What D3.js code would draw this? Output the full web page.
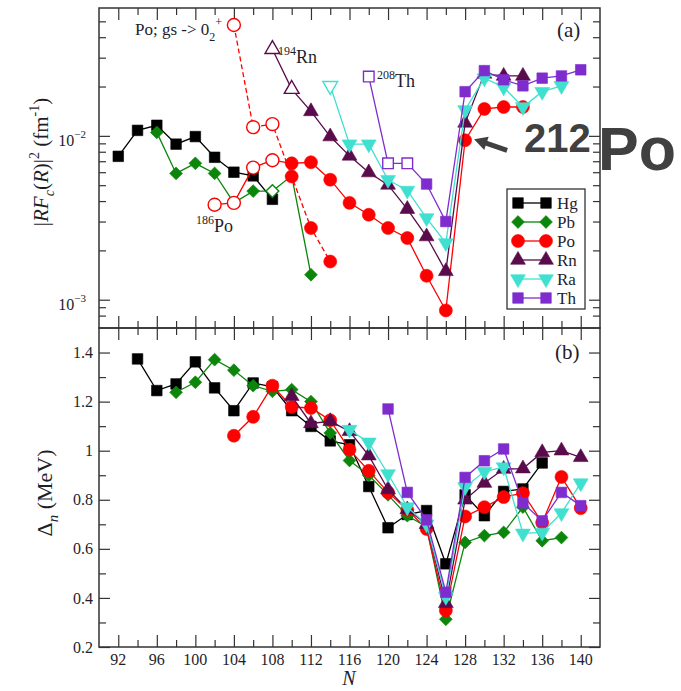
<!DOCTYPE html>
<html>
<head>
<meta charset="utf-8">
<script src="https://cdn.jsdelivr.net/npm/d3@7"></script>
<style>
  html, body { margin: 0; padding: 0; background: #fff; }
  svg { display: block; }
  text { font-family: "Liberation Serif", "Times New Roman", serif; fill: #1e1e2a; }
</style>
</head>
<body>
<svg id="chart" width="681" height="691"></svg>
<script>
// ---------- data: |R F_c(R)|^2 (fm^-1) versus neutron number N ----------
const rfHg = [[92,0.0075],[94,0.0108],[96,0.0116],[98,0.0089],[100,0.0099],[102,0.0074],[104,0.0060],[106,0.0057],[108,0.0041]];
const rfPb = [[96,0.0105],[98,0.0059],[100,0.0068],[102,0.0059],[104,0.0039],[106,0.0046],[108,0.0046],[110,0.0057],[112,0.00142]];
const rfPo = [[102,0.0038],[104,0.0039],[106,0.0064],[108,0.0071],[110,0.0068],[112,0.0069],[114,0.0054],[116,0.0039],[118,0.0033],[120,0.00274],[122,0.00238],[124,0.0014],[126,0.00086],[128,0.0094],[130,0.0146],[132,0.0150],[134,0.0150]];
const rfPoExcited = [[104,0.0475],[106,0.0113],[108,0.0118],[110,0.00565],[112,0.00274],[114,0.00171]];
const rfRn = [[108,0.0338],[110,0.0193],[112,0.0141],[114,0.0099],[116,0.00755],[118,0.00597],[120,0.00502],[122,0.00357],[124,0.00243],[126,0.00149],[128,0.0120],[130,0.0239],[132,0.0232],[134,0.0232]];
const rfRa = [[114,0.0202],[116,0.0089],[118,0.0089],[120,0.0054],[122,0.00464],[124,0.00315],[126,0.00222],[128,0.0144],[130,0.0225],[132,0.0198],[134,0.0150],[136,0.0186],[138,0.0202]];
const rfTh = [[118,0.0230],[120,0.0068],[122,0.0068],[124,0.00508],[126,0.0030],[128,0.0186],[130,0.0250],[132,0.0220],[134,0.0202],[136,0.0225],[138,0.0232],[140,0.0253]];

// neutron numbers drawn with open symbols
const openHg = [];
const openPb = [108];
const openPo = [102,104,106,108];
const openPoExcited = [104,106,108];
const openRn = [108,110];
const openRa = [114];
const openTh = [118,120,122];

// ---------- data: neutron pairing gap Delta_n (MeV) versus N ----------
const gapHg = [[94,1.374],[96,1.245],[98,1.272],[100,1.362],[102,1.256],[104,1.163],[106,1.276],[108,1.26],[110,1.163],[112,1.099],[114,1.04],[116,1.024],[118,0.854],[120,0.686],[122,0.74],[124,0.756],[126,0.539],[128,0.82],[130,0.735],[132,0.834],[134,0.844],[136,0.95]];
const gapPb = [[98,1.238],[100,1.279],[102,1.371],[104,1.328],[106,1.265],[108,1.242],[110,1.249],[112,1.2],[114,1.072],[116,0.96],[118,0.9],[120,0.82],[122,0.735],[124,0.69],[126,0.313],[128,0.626],[130,0.654],[132,0.667],[134,0.77],[136,0.633],[138,0.646]];
const gapPo = [[104,1.061],[106,1.138],[108,1.265],[110,1.178],[112,1.174],[114,1.124],[116,1.004],[118,0.918],[120,0.83],[122,0.759],[124,0.681],[126,0.349],[128,0.732],[130,0.77],[132,0.811],[134,0.827],[136,0.707],[138,0.893],[140,0.766]];
const gapRn = [[110,1.222],[112,1.111],[114,1.12],[116,1.079],[118,0.98],[120,0.842],[122,0.76],[124,0.70],[126,0.378],[128,0.8],[130,0.868],[132,0.925],[134,0.927],[136,0.993],[138,1.0],[140,0.973]];
const gapRa = [[116,1.086],[118,1.034],[120,0.905],[122,0.77],[124,0.70],[126,0.405],[128,0.852],[130,0.915],[132,0.933],[134,0.663],[136,0.667],[138,0.746],[140,0.868]];
const gapTh = [[120,1.17],[122,0.83],[124,0.718],[126,0.423],[128,0.891],[130,0.959],[132,1.007],[134,0.787],[136,0.714],[138,0.83],[140,0.776]];

// ---------- axis ticks ----------
const xMajor = [92,96,100,104,108,112,116,120,124,128,132,136,140];
const xMinor = [94,98,102,106,110,114,118,122,126,130,134,138];
const rfMajor = [1e-3, 1e-2];
const rfMinor = [8e-4,9e-4,2e-3,3e-3,4e-3,5e-3,6e-3,7e-3,8e-3,9e-3,2e-2,3e-2,4e-2,5e-2];
const gapMajor = [0.2,0.4,0.6,0.8,1.0,1.2,1.4];
const gapMinor = [0.3,0.5,0.7,0.9,1.1,1.3];
const gapLabels = ["0.2","0.4","0.6","0.8","1","1.2","1.4"];
const legendNames = ["Hg","Pb","Po","Rn","Ra","Th"];

// ---------- styles ----------
const style = {
  Hg: { color: "#000000", shape: "square" },
  Pb: { color: "#0b860b", shape: "diamond" },
  Po: { color: "#ff0000", shape: "circle" },
  Rn: { color: "#5a0b4c", shape: "triangle" },
  Ra: { color: "#40e0d0", shape: "triangleDown" },
  Th: { color: "#7f2ccf", shape: "square" }
};

const svg = d3.select("#chart");
const L = 99, R = 600, T1 = 8, B1 = 328, T2 = 328, B2 = 647;

const x = d3.scaleLinear().domain([90, 142]).range([L, R]);
const yRF = d3.scaleLog().domain([6.72e-4, 6.03e-2]).range([B1, T1]);
const yGap = d3.scaleLinear().domain([0.2, 1.5]).range([B2, T2]);

function symbolOf(shape) {
  switch (shape) {
    case "square": return { path: d3.symbol(d3.symbolSquare, 112)(), rot: 0 };
    case "diamond": return { path: d3.symbol(d3.symbolSquare, 82)(), rot: 45 };
    case "circle": return { path: d3.symbol(d3.symbolCircle, 132)(), rot: 0 };
    case "triangle": return { path: d3.symbol(d3.symbolTriangle, 95)(), rot: 0 };
    case "triangleDown": return { path: d3.symbol(d3.symbolTriangle, 95)(), rot: 180 };
  }
}

function drawSeries(g, data, openList, st, yScale, dashed) {
  const line = d3.line().x(d => x(d[0])).y(d => yScale(d[1]));
  g.append("path").datum(data)
    .attr("d", line)
    .attr("fill", "none")
    .attr("stroke", st.color)
    .attr("stroke-width", 1.3)
    .attr("stroke-dasharray", dashed ? "5,3" : null);
  const sym = symbolOf(st.shape);
  g.selectAll(null).data(data).join("path")
    .attr("d", sym.path)
    .attr("transform", d => `translate(${x(d[0])},${yScale(d[1])}) rotate(${sym.rot})`)
    .attr("fill", d => openList.includes(d[0]) ? "#ffffff" : st.color)
    .attr("stroke", st.color)
    .attr("stroke-width", d => openList.includes(d[0]) ? 1.4 : 0.6);
}

// ---------- tick helper (ticks point into each panel) ----------
function tickSet(axisFn, scale, values, size, tx, ty) {
  svg.append("g")
    .attr("transform", `translate(${tx},${ty})`)
    .call(axisFn(scale).tickValues(values).tickSize(size).tickFormat(""))
    .call(s => s.select(".domain").remove())
    .call(s => s.selectAll(".tick line").attr("stroke", "#333").attr("stroke-width", 1.2))
    .call(s => s.selectAll(".tick text").remove());
}

// top panel ticks
tickSet(d3.axisBottom, x, xMajor, 12, 0, T1);
tickSet(d3.axisBottom, x, xMinor, 7, 0, T1);
tickSet(d3.axisTop, x, xMajor, 12, 0, B1);
tickSet(d3.axisTop, x, xMinor, 7, 0, B1);
tickSet(d3.axisRight, yRF, rfMajor, 11, L, 0);
tickSet(d3.axisRight, yRF, rfMinor, 7, L, 0);
tickSet(d3.axisLeft, yRF, rfMajor, 11, R, 0);
tickSet(d3.axisLeft, yRF, rfMinor, 7, R, 0);
// bottom panel ticks
tickSet(d3.axisBottom, x, xMajor, 12, 0, T2);
tickSet(d3.axisBottom, x, xMinor, 7, 0, T2);
tickSet(d3.axisTop, x, xMajor, 12, 0, B2);
tickSet(d3.axisTop, x, xMinor, 7, 0, B2);
tickSet(d3.axisRight, yGap, gapMajor, 11, L, 0);
tickSet(d3.axisRight, yGap, gapMinor, 7, L, 0);
tickSet(d3.axisLeft, yGap, gapMajor, 11, R, 0);
tickSet(d3.axisLeft, yGap, gapMinor, 7, R, 0);

// ---------- series ----------
const gTop = svg.append("g");
drawSeries(gTop, rfHg, openHg, style.Hg, yRF, false);
drawSeries(gTop, rfPb, openPb, style.Pb, yRF, false);
drawSeries(gTop, rfPo, openPo, style.Po, yRF, false);
drawSeries(gTop, rfPoExcited, openPoExcited, style.Po, yRF, true);
drawSeries(gTop, rfRn, openRn, style.Rn, yRF, false);
drawSeries(gTop, rfRa, openRa, style.Ra, yRF, false);
drawSeries(gTop, rfTh, openTh, style.Th, yRF, false);

const gBot = svg.append("g");
drawSeries(gBot, gapHg, [], style.Hg, yGap, false);
drawSeries(gBot, gapPb, [], style.Pb, yGap, false);
drawSeries(gBot, gapPo, [], style.Po, yGap, false);
drawSeries(gBot, gapRn, [], style.Rn, yGap, false);
drawSeries(gBot, gapRa, [], style.Ra, yGap, false);
drawSeries(gBot, gapTh, [], style.Th, yGap, false);

// ---------- frames ----------
svg.append("rect").attr("x", L).attr("y", T1).attr("width", R - L).attr("height", B1 - T1)
  .attr("fill", "none").attr("stroke", "#333").attr("stroke-width", 1.5);
svg.append("rect").attr("x", L).attr("y", T2).attr("width", R - L).attr("height", B2 - T2)
  .attr("fill", "none").attr("stroke", "#333").attr("stroke-width", 1.5);

// ---------- tick labels ----------
svg.append("g").selectAll("text").data(xMajor).join("text")
  .attr("x", d => x(d)).attr("y", 665)
  .attr("text-anchor", "middle").attr("font-size", 16)
  .text(d => d);

svg.append("g").selectAll("text").data(gapMajor).join("text")
  .attr("x", 93).attr("y", d => yGap(d)).attr("dy", "0.35em")
  .attr("text-anchor", "end").attr("font-size", 16)
  .text((d, i) => gapLabels[i]);

const rfLab = svg.append("g").selectAll("text").data(rfMajor).join("text")
  .attr("x", 86).attr("y", d => yRF(d) + 10)
  .attr("text-anchor", "end").attr("font-size", 16);
rfLab.append("tspan").text("10");
rfLab.append("tspan").attr("font-size", 11).attr("dy", -8).text(d => "\u2212" + Math.round(-Math.log10(d)));

// ---------- axis titles ----------
function richText(parent, parts, size, smallSize) {
  let shift = 0;
  parts.forEach(p => {
    const target = p.sub ? 6 : p.sup ? -9 : 0;
    parent.append("tspan")
      .attr("dy", target - shift)
      .attr("font-size", (p.sub || p.sup) ? smallSize : size)
      .attr("font-style", p.i ? "italic" : "normal")
      .text(p.t);
    shift = target;
  });
}

const yTitleTop = svg.append("text")
  .attr("transform", "translate(48,162) rotate(-90)")
  .attr("text-anchor", "middle").attr("font-size", 21);
richText(yTitleTop, [
  { t: "|" }, { t: "RF", i: true }, { t: "c", i: true, sub: true }, { t: "(" }, { t: "R", i: true },
  { t: ")|" }, { t: "2", sup: true }, { t: " (fm" }, { t: "-1", sup: true }, { t: ")" }
], 21, 14);

const yTitleBot = svg.append("text")
  .attr("transform", "translate(52,493) rotate(-90)")
  .attr("text-anchor", "middle").attr("font-size", 22);
richText(yTitleBot, [
  { t: "\u0394" }, { t: "n", i: true, sub: true }, { t: " (MeV)" }
], 22, 15);

svg.append("text").attr("x", 349).attr("y", 685).attr("text-anchor", "middle")
  .attr("font-size", 20).attr("font-style", "italic").text("N");

// ---------- panel tags and annotations ----------
svg.append("text").attr("x", 557).attr("y", 37).attr("font-size", 21).text("(a)");
svg.append("text").attr("x", 555).attr("y", 359).attr("font-size", 21).text("(b)");

const noteGs = svg.append("text").attr("x", 135).attr("y", 35).attr("font-size", 17);
richText(noteGs, [{ t: "Po; gs -> 0" }, { t: "2", sub: true }, { t: "+", sup: true }], 17, 12);

function isotope(xp, yp, mass, el) {
  const t = svg.append("text").attr("x", xp).attr("y", yp).attr("font-size", 18);
  t.append("tspan").attr("font-size", 12).attr("dy", -8).text(mass);
  t.append("tspan").attr("dy", 8).text(el);
}
isotope(278, 63, "194", "Rn");
isotope(377, 87, "208", "Th");
isotope(196, 232, "186", "Po");

// ---------- legend ----------
const lg = svg.append("g");
lg.append("rect").attr("x", 507).attr("y", 189).attr("width", 78).attr("height", 120)
  .attr("fill", "#fff").attr("stroke", "#333").attr("stroke-width", 1.3);
legendNames.forEach((name, i) => {
  const yy = 203 + i * 19;
  const st = style[name];
  const sym = symbolOf(st.shape);
  lg.append("line").attr("x1", 518).attr("x2", 546).attr("y1", yy).attr("y2", yy)
    .attr("stroke", st.color).attr("stroke-width", 1.3);
  [518, 546].forEach(px => {
    lg.append("path").attr("d", sym.path)
      .attr("transform", `translate(${px},${yy}) rotate(${sym.rot})`)
      .attr("fill", st.color).attr("stroke", st.color).attr("stroke-width", 0.6);
  });
  lg.append("text").attr("x", 557).attr("y", yy + 6).attr("font-size", 17).text(name);
});

// ---------- 212Po call-out ----------
const tip = [x(128) + 9, yRF(0.0094) - 1];
const tail = [tip[0] + 33, tip[1] + 11];
const dx = tip[0] - tail[0], dy = tip[1] - tail[1];
const len = Math.hypot(dx, dy), ux = dx / len, uy = dy / len;
const headLen = 13, headHalf = 7;
const base = [tip[0] - ux * headLen, tip[1] - uy * headLen];
svg.append("line")
  .attr("x1", tail[0]).attr("y1", tail[1]).attr("x2", base[0] + ux * 2).attr("y2", base[1] + uy * 2)
  .attr("stroke", "#404040").attr("stroke-width", 5);
svg.append("path")
  .attr("d", `M${tip[0]},${tip[1]} L${base[0] - uy * headHalf},${base[1] + ux * headHalf} L${base[0] + uy * headHalf},${base[1] - ux * headHalf} Z`)
  .attr("fill", "#404040");

svg.append("text").attr("x", 524).attr("y", 152)
  .style("font-family", "'Liberation Sans', Arial, sans-serif").style("font-weight", "bold")
  .style("fill", "#404040").attr("font-size", 40).text("212");
svg.append("text").attr("x", 598).attr("y", 170)
  .style("font-family", "'Liberation Sans', Arial, sans-serif").style("font-weight", "bold")
  .style("fill", "#404040").attr("font-size", 61).text("Po");
</script>
</body>
</html>
